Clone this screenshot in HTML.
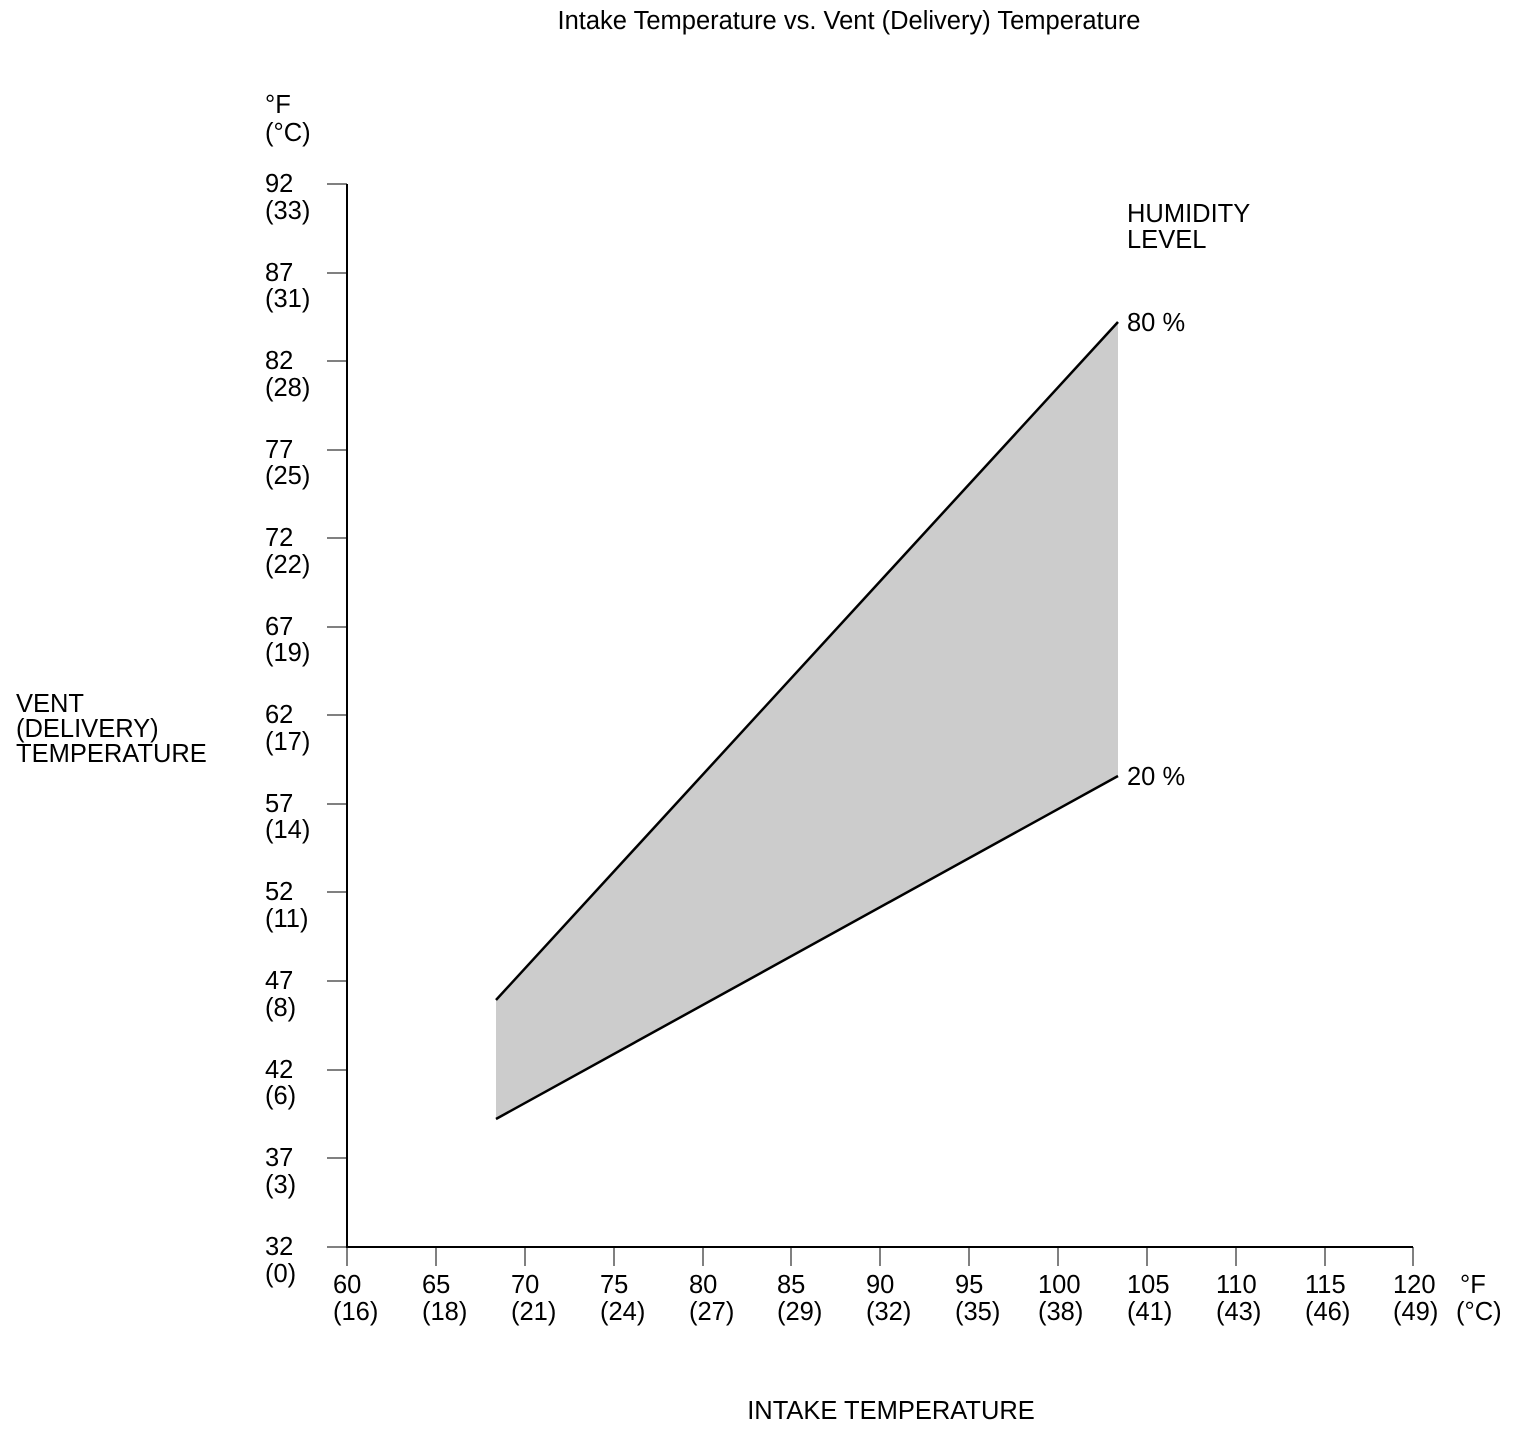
<!DOCTYPE html>
<html><head><style>body{margin:0;background:#fff}svg{display:block}text{font-family:"Liberation Sans",Arial,sans-serif;font-size:25.5px;fill:#000}</style></head>
<body>
<svg width="1518" height="1430" xmlns="http://www.w3.org/2000/svg">
<text x="849" y="29" text-anchor="middle">Intake Temperature vs. Vent (Delivery) Temperature</text>
<text x="265" y="113">°F</text><text x="265" y="141">(°C)</text>
<text x="16" y="712">VENT</text><text x="16" y="737">(DELIVERY)</text><text x="16" y="762">TEMPERATURE</text>
<text x="891" y="1419" text-anchor="middle">INTAKE TEMPERATURE</text>
<text x="1127" y="222">HUMIDITY</text><text x="1127" y="248">LEVEL</text>
<text x="1127" y="331">80 %</text><text x="1127" y="785">20 %</text>
<polygon points="496,1000 1118,322 1118,776 496,1119" fill="#cccccc"/>
<line x1="496" y1="1000" x2="1118" y2="322" stroke="#000" stroke-width="2.5"/>
<line x1="496" y1="1119" x2="1118" y2="776" stroke="#000" stroke-width="2.5"/>
<line x1="347" y1="184" x2="347" y2="1248" stroke="#000" stroke-width="2"/>
<line x1="346" y1="1247" x2="1413" y2="1247" stroke="#000" stroke-width="2"/>
<g stroke="#000" stroke-width="1">
<line x1="327" y1="184" x2="347" y2="184"/><line x1="327" y1="273" x2="347" y2="273"/><line x1="327" y1="361" x2="347" y2="361"/><line x1="327" y1="450" x2="347" y2="450"/><line x1="327" y1="538" x2="347" y2="538"/><line x1="327" y1="627" x2="347" y2="627"/><line x1="327" y1="715" x2="347" y2="715"/><line x1="327" y1="804" x2="347" y2="804"/><line x1="327" y1="892" x2="347" y2="892"/><line x1="327" y1="981" x2="347" y2="981"/><line x1="327" y1="1070" x2="347" y2="1070"/><line x1="327" y1="1158" x2="347" y2="1158"/><line x1="327" y1="1247" x2="347" y2="1247"/>
<line x1="347" y1="1247" x2="347" y2="1266"/><line x1="436" y1="1247" x2="436" y2="1266"/><line x1="525" y1="1247" x2="525" y2="1266"/><line x1="614" y1="1247" x2="614" y2="1266"/><line x1="703" y1="1247" x2="703" y2="1266"/><line x1="791" y1="1247" x2="791" y2="1266"/><line x1="880" y1="1247" x2="880" y2="1266"/><line x1="969" y1="1247" x2="969" y2="1266"/><line x1="1058" y1="1247" x2="1058" y2="1266"/><line x1="1147" y1="1247" x2="1147" y2="1266"/><line x1="1236" y1="1247" x2="1236" y2="1266"/><line x1="1325" y1="1247" x2="1325" y2="1266"/><line x1="1413" y1="1247" x2="1413" y2="1266"/>
</g>
<g>
<text x="265" y="192">92</text><text x="265" y="219">(33)</text>
<text x="265" y="281">87</text><text x="265" y="307">(31)</text>
<text x="265" y="369">82</text><text x="265" y="396">(28)</text>
<text x="265" y="458">77</text><text x="265" y="484">(25)</text>
<text x="265" y="546">72</text><text x="265" y="573">(22)</text>
<text x="265" y="635">67</text><text x="265" y="661">(19)</text>
<text x="265" y="723">62</text><text x="265" y="750">(17)</text>
<text x="265" y="812">57</text><text x="265" y="838">(14)</text>
<text x="265" y="900">52</text><text x="265" y="927">(11)</text>
<text x="265" y="989">47</text><text x="265" y="1016">(8)</text>
<text x="265" y="1078">42</text><text x="265" y="1104">(6)</text>
<text x="265" y="1166">37</text><text x="265" y="1193">(3)</text>
<text x="265" y="1255">32</text><text x="265" y="1282">(0)</text>
</g>
<g>
<text x="333" y="1293">60</text><text x="333" y="1320">(16)</text>
<text x="422" y="1293">65</text><text x="422" y="1320">(18)</text>
<text x="511" y="1293">70</text><text x="511" y="1320">(21)</text>
<text x="600" y="1293">75</text><text x="600" y="1320">(24)</text>
<text x="689" y="1293">80</text><text x="689" y="1320">(27)</text>
<text x="777" y="1293">85</text><text x="777" y="1320">(29)</text>
<text x="866" y="1293">90</text><text x="866" y="1320">(32)</text>
<text x="955" y="1293">95</text><text x="955" y="1320">(35)</text>
<text x="1038" y="1293">100</text><text x="1038" y="1320">(38)</text>
<text x="1127" y="1293">105</text><text x="1127" y="1320">(41)</text>
<text x="1216" y="1293">110</text><text x="1216" y="1320">(43)</text>
<text x="1305" y="1293">115</text><text x="1305" y="1320">(46)</text>
<text x="1393" y="1293">120</text><text x="1393" y="1320">(49)</text>
<text x="1460" y="1293">°F</text><text x="1456" y="1320">(°C)</text>
</g>
</svg>
</body></html>
